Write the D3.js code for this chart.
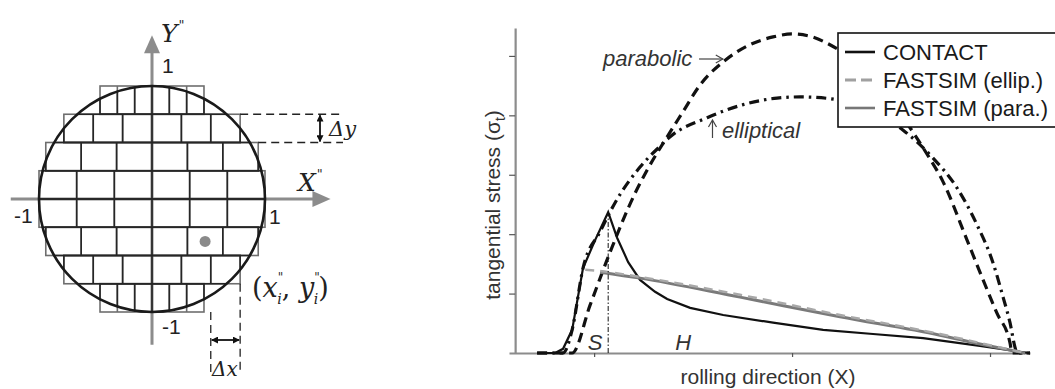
<!DOCTYPE html>
<html>
<head>
<meta charset="utf-8">
<script src="https://cdn.jsdelivr.net/npm/d3@7"></script>
<style>
  body { margin: 0; background: #fff; }
  svg { display: block; font-family: "Liberation Sans", Arial, sans-serif; }
</style>
</head>
<body>
<div id="chart"></div>
<script>
// ---- left panel: discretised contact circle ----
const gridRowEdges = [1, 0.75, 0.5, 0.25, 0, -0.25, -0.5, -0.75, -1];
const gridRowHalfWidths = [0.46, 0.78, 0.94, 1.0, 1.0, 0.94, 0.78, 0.46];
const cellsPerRow = 6;
const samplePoint = [0.47, -0.375];

// ---- right panel: tangential stress along rolling direction ----
const parabolic = [[-1.288, 0], [-1.111, 0], [-1.02, 0.81], [-0.919, 1.7], [-0.793, 2.69], [-0.732, 3.08],
  [-0.631, 3.64], [-0.551, 4.06], [-0.465, 4.51], [-0.348, 4.9], [-0.212, 5.19], [-0.096, 5.32], [0, 5.37],
  [0.091, 5.33], [0.227, 5.12], [0.394, 4.7], [0.576, 3.89], [0.672, 3.4], [0.763, 2.88], [0.884, 1.9],
  [0.965, 1.23], [1.035, 0.67], [1.101, 0.17], [1.111, 0], [1.202, 0]];
const elliptical = [[-1.288, 0], [-1.157, 0], [-1.111, 0.39], [-1.056, 1.43], [-0.97, 2.04], [-0.894, 2.53],
  [-0.768, 3.13], [-0.667, 3.48], [-0.616, 3.64], [-0.429, 3.96], [-0.247, 4.18], [-0.076, 4.29], [0.04, 4.31],
  [0.192, 4.28], [0.394, 4.09], [0.561, 3.75], [0.707, 3.3], [0.833, 2.78], [0.934, 2.16], [1.015, 1.52],
  [1.066, 0.94], [1.101, 0.51], [1.126, 0.1], [1.136, 0], [1.202, 0]];
const contact = [[-1.288, 0], [-1.197, 0], [-1.157, 0.07], [-1.111, 0.39], [-1.056, 1.43], [-0.995, 1.9],
  [-0.929, 2.37], [-0.884, 1.94], [-0.828, 1.53], [-0.768, 1.23], [-0.692, 1.03], [-0.631, 0.91],
  [-0.515, 0.76], [-0.348, 0.64], [-0.096, 0.51], [0.157, 0.39], [0.409, 0.32], [0.662, 0.25],
  [0.949, 0.12], [1.152, 0.02], [1.202, 0]];
const fastsimEllip = [[-1.045, 1.4], [-0.97, 1.38], [-0.768, 1.28], [-0.263, 0.98], [0.242, 0.64],
  [0.747, 0.32], [0.949, 0.17], [1.177, 0]];
const fastsimPara = [[-0.97, 1.36], [-0.768, 1.26], [-0.263, 0.94], [0.242, 0.61], [0.747, 0.3],
  [0.949, 0.15], [1.177, 0]];
const slipStart = -0.929;   // boundary between slip (S) and adhesion (H)
const xTicks = [-1, 0, 1];
const yTicks = [1, 2, 3, 4, 5];
const legendLabels = ["CONTACT", "FASTSIM (ellip.)", "FASTSIM (para.)"];

const svg = d3.select("#chart").append("svg")
    .attr("width", 1055)
    .attr("height", 389);

const defs = svg.append("defs");
defs.append("marker")
    .attr("id", "head")
    .attr("viewBox", "0 0 10 10")
    .attr("refX", 9).attr("refY", 5)
    .attr("markerWidth", 7).attr("markerHeight", 7)
    .attr("markerUnits", "userSpaceOnUse")
    .attr("orient", "auto-start-reverse")
    .append("path")
    .attr("d", "M0,0L10,5L0,10z")
    .attr("fill", "#111");

//==================== left panel ====================
const gx = d3.scaleLinear().domain([-1, 1]).range([39, 265]);
const gy = d3.scaleLinear().domain([-1, 1]).range([312, 86]);
const left = svg.append("g");

// gray axes with arrow heads
const axisGray = "#8c8c8c";
left.append("line")
    .attr("x1", gx(-1.25)).attr("x2", gx(1.45))
    .attr("y1", gy(0)).attr("y2", gy(0))
    .attr("stroke", axisGray).attr("stroke-width", 3);
left.append("path")
    .attr("d", `M${gx(1.58)},${gy(0)}L${gx(1.42)},${gy(0) - 8}L${gx(1.42)},${gy(0) + 8}Z`)
    .attr("fill", axisGray);
left.append("line")
    .attr("x1", gx(0)).attr("x2", gx(0))
    .attr("y1", gy(-1.29)).attr("y2", gy(1.33))
    .attr("stroke", axisGray).attr("stroke-width", 3);
left.append("path")
    .attr("d", `M${gx(0)},${gy(1.45)}L${gx(0) - 8},${gy(1.29)}L${gx(0) + 8},${gy(1.29)}Z`)
    .attr("fill", axisGray);

// grid of strips: gray outside circle, dark inside
defs.append("clipPath").attr("id", "disk")
    .append("circle")
    .attr("cx", gx(0)).attr("cy", gy(0)).attr("r", gx(1) - gx(0) + 1);

function drawGrid(g, colour) {
  gridRowHalfWidths.forEach((hw, i) => {
    const top = gridRowEdges[i], bot = gridRowEdges[i + 1];
    g.append("rect")
        .attr("x", gx(-hw)).attr("y", gy(top))
        .attr("width", gx(hw) - gx(-hw)).attr("height", gy(bot) - gy(top))
        .attr("fill", "none").attr("stroke", colour).attr("stroke-width", 1.6);
    d3.range(1, cellsPerRow).forEach(k => {
      const xv = -hw + k * 2 * hw / cellsPerRow;
      g.append("line")
          .attr("x1", gx(xv)).attr("x2", gx(xv))
          .attr("y1", gy(top)).attr("y2", gy(bot))
          .attr("stroke", colour).attr("stroke-width", 1.6);
    });
  });
}
drawGrid(left.append("g"), "#6e6e6e");
drawGrid(left.append("g").attr("clip-path", "url(#disk)"), "#262626");

left.append("circle")
    .attr("cx", gx(0)).attr("cy", gy(0)).attr("r", gx(1) - gx(0))
    .attr("fill", "none").attr("stroke", "#1a1a1a").attr("stroke-width", 2.6);

left.append("circle")
    .attr("cx", gx(samplePoint[0])).attr("cy", gy(samplePoint[1])).attr("r", 5.5)
    .attr("fill", "#8a8a8a");

// delta y marks
[[0.75, 0.78], [0.5, 0.94]].forEach(([yv, xv]) => {
  left.append("line")
      .attr("x1", gx(xv)).attr("x2", 343)
      .attr("y1", gy(yv)).attr("y2", gy(yv))
      .attr("stroke", "#222").attr("stroke-width", 1.3)
      .attr("stroke-dasharray", "8,5");
});
left.append("line")
    .attr("x1", 320).attr("x2", 320)
    .attr("y1", gy(0.75) + 1).attr("y2", gy(0.5) - 1)
    .attr("stroke", "#111").attr("stroke-width", 1.8)
    .attr("marker-start", "url(#head)").attr("marker-end", "url(#head)");

// delta x marks
[[0.52, -1], [0.78, -0.75]].forEach(([xv, yv]) => {
  left.append("line")
      .attr("x1", gx(xv)).attr("x2", gx(xv))
      .attr("y1", gy(yv)).attr("y2", 373)
      .attr("stroke", "#222").attr("stroke-width", 1.3)
      .attr("stroke-dasharray", "8,5");
});
left.append("line")
    .attr("x1", gx(0.52) + 1).attr("x2", gx(0.78) - 1)
    .attr("y1", 340).attr("y2", 340)
    .attr("stroke", "#111").attr("stroke-width", 1.8)
    .attr("marker-start", "url(#head)").attr("marker-end", "url(#head)");

// labels
const serif = "'DejaVu Serif', 'Liberation Serif', serif";
function mathLabel(xp, yp, letter) {
  const t = left.append("text")
      .attr("x", xp).attr("y", yp)
      .attr("font-family", serif).attr("font-size", 25)
      .attr("fill", "#222");
  t.append("tspan").attr("font-style", "italic").text(letter);
  t.append("tspan").attr("font-size", 13).attr("dy", -12).attr("dx", 1).text("\"");
}
mathLabel(gx(0) + 9, 42, "Y");
mathLabel(298, 191, "X");

const num = [["1", gx(0) + 10, 73], ["-1", 14, 223], ["1", 269, 224], ["-1", gx(0) + 10, 334]];
num.forEach(([s, xp, yp]) => {
  left.append("text").attr("x", xp).attr("y", yp)
      .attr("font-size", 21).attr("fill", "#222").text(s);
});

left.append("text").attr("x", 329).attr("y", 136)
    .attr("font-family", serif).attr("font-style", "italic")
    .attr("font-size", 21).attr("fill", "#222").text("Δy");
left.append("text").attr("x", 212).attr("y", 376)
    .attr("font-family", serif).attr("font-style", "italic")
    .attr("font-size", 20).attr("fill", "#222").text("Δx");

// (x_i", y_i")
const pt = left.append("text").attr("x", 252).attr("y", 297)
    .attr("font-family", serif).attr("font-size", 27).attr("fill", "#222");
pt.append("tspan").text("(");
pt.append("tspan").attr("font-style", "italic").text("x");
pt.append("tspan").attr("font-size", 12).attr("dy", -15).text("\"");
pt.append("tspan").attr("font-size", 14).attr("font-style", "italic").attr("dx", -6).attr("dy", 22).text("i");
pt.append("tspan").attr("dy", -7).text(", ");
pt.append("tspan").attr("font-style", "italic").text("y");
pt.append("tspan").attr("font-size", 12).attr("dy", -15).text("\"");
pt.append("tspan").attr("font-size", 14).attr("font-style", "italic").attr("dx", -6).attr("dy", 22).text("i");
pt.append("tspan").attr("dy", -7).text(")");

//==================== right panel ====================
const x = d3.scaleLinear().domain([-1.43, 1.202]).range([509, 1030]);
const y = d3.scaleLinear().domain([0, 5.47]).range([353, 28]);
const right = svg.append("g");

const xAxis = right.append("g")
    .attr("transform", `translate(0,${y(0)})`)
    .call(d3.axisBottom(x).tickValues(xTicks).tickSize(4).tickSizeOuter(0).tickFormat(""));
const yAxis = right.append("g")
    .attr("transform", `translate(${x(-1.399)},0)`)
    .call(d3.axisLeft(y).tickValues(yTicks).tickSize(6).tickSizeOuter(0).tickFormat(""));
[xAxis, yAxis].forEach(a => {
  a.select(".domain").attr("stroke", "#8c8c8c").attr("stroke-width", 2.2);
  a.selectAll(".tick line").attr("stroke", "#555").attr("stroke-width", 1.2);
});

const line = d3.line().x(d => x(d[0])).y(d => y(d[1])).curve(d3.curveMonotoneX);
const sharp = d3.line().x(d => x(d[0])).y(d => y(d[1])).curve(d3.curveLinear);

right.append("path").datum(elliptical)
    .attr("d", line).attr("fill", "none")
    .attr("stroke", "#111").attr("stroke-width", 3.2)
    .attr("stroke-dasharray", "10,5,2.5,5");
right.append("path").datum(parabolic)
    .attr("d", line).attr("fill", "none")
    .attr("stroke", "#111").attr("stroke-width", 3.2)
    .attr("stroke-dasharray", "10,6");
right.append("path").datum(contact)
    .attr("d", sharp).attr("fill", "none")
    .attr("stroke", "#111").attr("stroke-width", 2.2);
right.append("path").datum(fastsimPara)
    .attr("d", line).attr("fill", "none")
    .attr("stroke", "#7a7a7a").attr("stroke-width", 3);
right.append("path").datum(fastsimEllip)
    .attr("d", line).attr("fill", "none")
    .attr("stroke", "#a8a8a8").attr("stroke-width", 2.4)
    .attr("stroke-dasharray", "9,6");

// slip / adhesion boundary
right.append("line")
    .attr("x1", x(slipStart)).attr("x2", x(slipStart))
    .attr("y1", y(0)).attr("y2", y(2.37))
    .attr("stroke", "#111").attr("stroke-width", 1)
    .attr("stroke-dasharray", "5,2,1.5,2");

const annot = (xp, yp, s, anchor) => right.append("text")
    .attr("x", xp).attr("y", yp)
    .attr("text-anchor", anchor || "start")
    .attr("font-style", "italic").attr("font-size", 22).attr("fill", "#333").text(s);
annot(x(-0.955), 66, "parabolic");
right.append("line")
    .attr("x1", x(-0.47)).attr("x2", x(-0.35))
    .attr("y1", 59).attr("y2", 59)
    .attr("stroke", "#444").attr("stroke-width", 1.2);
right.append("path")
    .attr("d", `M${x(-0.35) - 7},${55}L${x(-0.35)},59L${x(-0.35) - 7},63`)
    .attr("fill", "none").attr("stroke", "#444").attr("stroke-width", 1.2);
annot(x(-0.354), 138, "elliptical");
right.append("line")
    .attr("x1", x(-0.402)).attr("x2", x(-0.402))
    .attr("y1", 138).attr("y2", 121)
    .attr("stroke", "#444").attr("stroke-width", 1.2);
right.append("path")
    .attr("d", `M${x(-0.402) - 4},${127}L${x(-0.402)},120L${x(-0.402) + 4},127`)
    .attr("fill", "none").attr("stroke", "#444").attr("stroke-width", 1.2);
annot(x(-0.995), 350, "S", "middle");
annot(x(-0.55), 350, "H", "middle");

// axis titles
right.append("text")
    .attr("x", 768).attr("y", 384)
    .attr("text-anchor", "middle")
    .attr("font-size", 21).attr("fill", "#333")
    .text("rolling direction (X)");
const yl = right.append("text")
    .attr("transform", "translate(500,205) rotate(-90)")
    .attr("text-anchor", "middle")
    .attr("font-size", 21).attr("fill", "#333");
yl.append("tspan").text("tangential stress (σ");
yl.append("tspan").attr("font-size", 14).attr("dy", 5).text("t");
yl.append("tspan").attr("dy", -5).text(")");

// legend
const legend = right.append("g").attr("transform", "translate(838,33)");
legend.append("rect")
    .attr("width", 240).attr("height", 94)
    .attr("fill", "#fff").attr("stroke", "#111").attr("stroke-width", 1.6);
const legendStyles = [
  {stroke: "#111", width: 2.6, dash: null},
  {stroke: "#a0a0a0", width: 3, dash: "11,5"},
  {stroke: "#777", width: 2.6, dash: null}
];
legendLabels.forEach((s, i) => {
  const yy = 19 + i * 28;
  legend.append("line")
      .attr("x1", 7).attr("x2", 37).attr("y1", yy).attr("y2", yy)
      .attr("stroke", legendStyles[i].stroke)
      .attr("stroke-width", legendStyles[i].width)
      .attr("stroke-dasharray", legendStyles[i].dash);
  legend.append("text")
      .attr("x", 45).attr("y", yy + 8)
      .attr("font-size", 22).attr("fill", "#1a1a1a")
      .text(s);
});
</script>
</body>
</html>
